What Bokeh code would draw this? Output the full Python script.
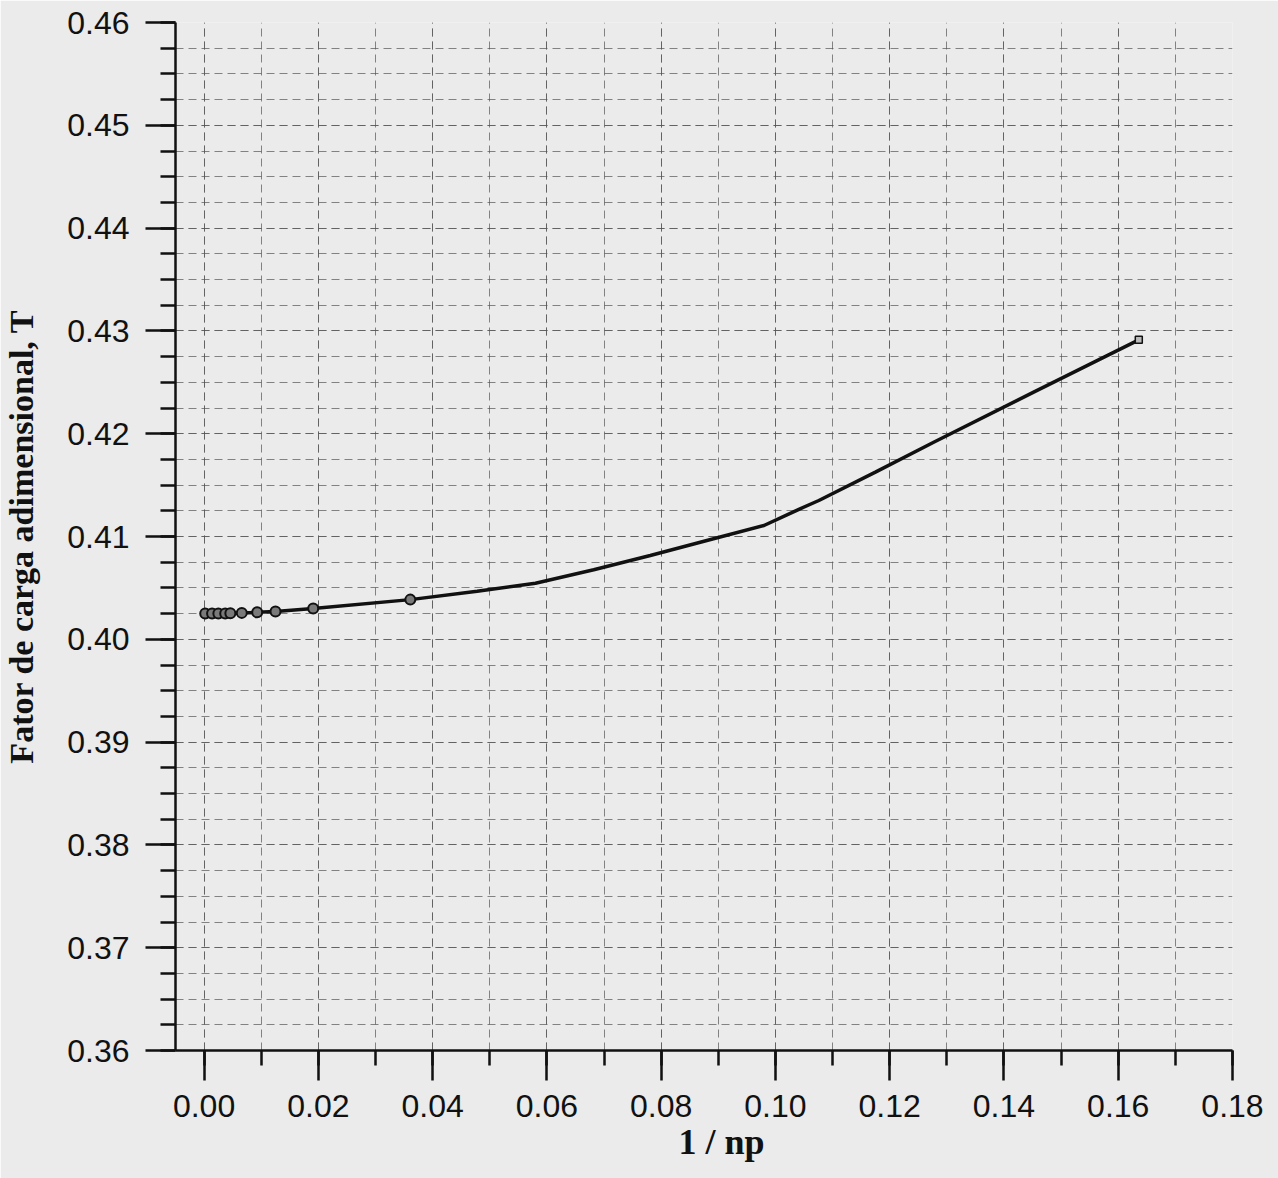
from bokeh.plotting import figure
from bokeh.models import SingleIntervalTicker, Title, Range1d, PrintfTickFormatter
from bokeh.embed import file_html
from bokeh.resources import INLINE

# Marker points (1/np, T)
x_pts = [0.0002, 0.0014, 0.0025, 0.0037, 0.0046, 0.0066, 0.0093, 0.0125, 0.0191, 0.0361]
y_pts = [0.40250, 0.40250, 0.40250, 0.40252, 0.40254, 0.40257, 0.40262, 0.40270, 0.40300, 0.40386]

# Curve continuation (no markers)
x_curve = [0.0478, 0.0580, 0.0682, 0.0781, 0.0880, 0.0980, 0.1044, 0.1076, 0.1175, 0.1277, 0.1452, 0.1636]
y_curve = [0.40468, 0.40546, 0.40676, 0.40815, 0.40961, 0.41107, 0.41272, 0.41350, 0.41626, 0.41917, 0.42404, 0.42913]

x_label = "1 / np"
y_label = "Fator de carga adimensional, T"

BG = "#eaebea"
GRID = "#555555"

p = figure(width=1278, height=1178,
           x_range=Range1d(-0.005, 0.18), y_range=Range1d(0.36, 0.46),
           output_backend="svg", toolbar_location=None,
           min_border_left=175, min_border_right=46,
           min_border_top=22, min_border_bottom=128)
p.background_fill_color = BG
p.border_fill_color = BG
p.outline_line_color = None

xt = SingleIntervalTicker(interval=0.02, num_minor_ticks=2)
yt = SingleIntervalTicker(interval=0.01, num_minor_ticks=4)
p.xaxis.ticker = xt
p.yaxis.ticker = yt
p.xgrid.ticker = xt
p.ygrid.ticker = yt
p.xaxis.formatter = PrintfTickFormatter(format="%.2f")
p.yaxis.formatter = PrintfTickFormatter(format="%.2f")

for g in (p.xgrid, p.ygrid):
    g.grid_line_color = GRID
    g.grid_line_dash = "8 5"
    g.grid_line_width = 1
    g.grid_line_alpha = 0.7
    g.minor_grid_line_color = GRID
    g.minor_grid_line_dash = "8 5"
    g.minor_grid_line_width = 1
    g.minor_grid_line_alpha = 0.7

for ax in (p.xaxis, p.yaxis):
    ax.axis_line_color = "#111111"
    ax.axis_line_width = 2.5
    ax.major_tick_line_color = "#111111"
    ax.major_tick_line_width = 2.5
    ax.minor_tick_line_color = "#111111"
    ax.minor_tick_line_width = 2.5
    ax.major_tick_out = 30
    ax.major_tick_in = 0
    ax.minor_tick_out = 15
    ax.minor_tick_in = 0
    ax.major_label_text_font = "Liberation Sans"
    ax.major_label_text_font_size = "32px"
    ax.major_label_text_color = "#111111"

p.xaxis.major_label_standoff = 14
p.yaxis.major_label_standoff = 16

p.yaxis.axis_label = y_label
p.yaxis.axis_label_text_font = "Liberation Serif"
p.yaxis.axis_label_text_font_style = "bold"
p.yaxis.axis_label_text_font_size = "34px"
p.yaxis.axis_label_text_color = "#111111"
p.yaxis.axis_label_standoff = 24

# curve
p.line(x_pts + x_curve, y_pts + y_curve, line_color="#111111", line_width=3.5)
p.scatter(x_pts, y_pts, marker="circle", size=10, fill_color="#7a7a7a",
          line_color="#111111", line_width=2)
p.scatter(x_curve[-1:], y_curve[-1:], marker="square", size=7, fill_color="#bbbbbb",
          line_color="#111111", line_width=1.5)

p.add_layout(Title(text=x_label, align="left", offset=503,
                   text_font="Liberation Serif", text_font_style="bold",
                   text_font_size="36px", text_color="#111111",
                   standoff=0), "below")

open("out.html", "w").write(file_html(p, INLINE))
